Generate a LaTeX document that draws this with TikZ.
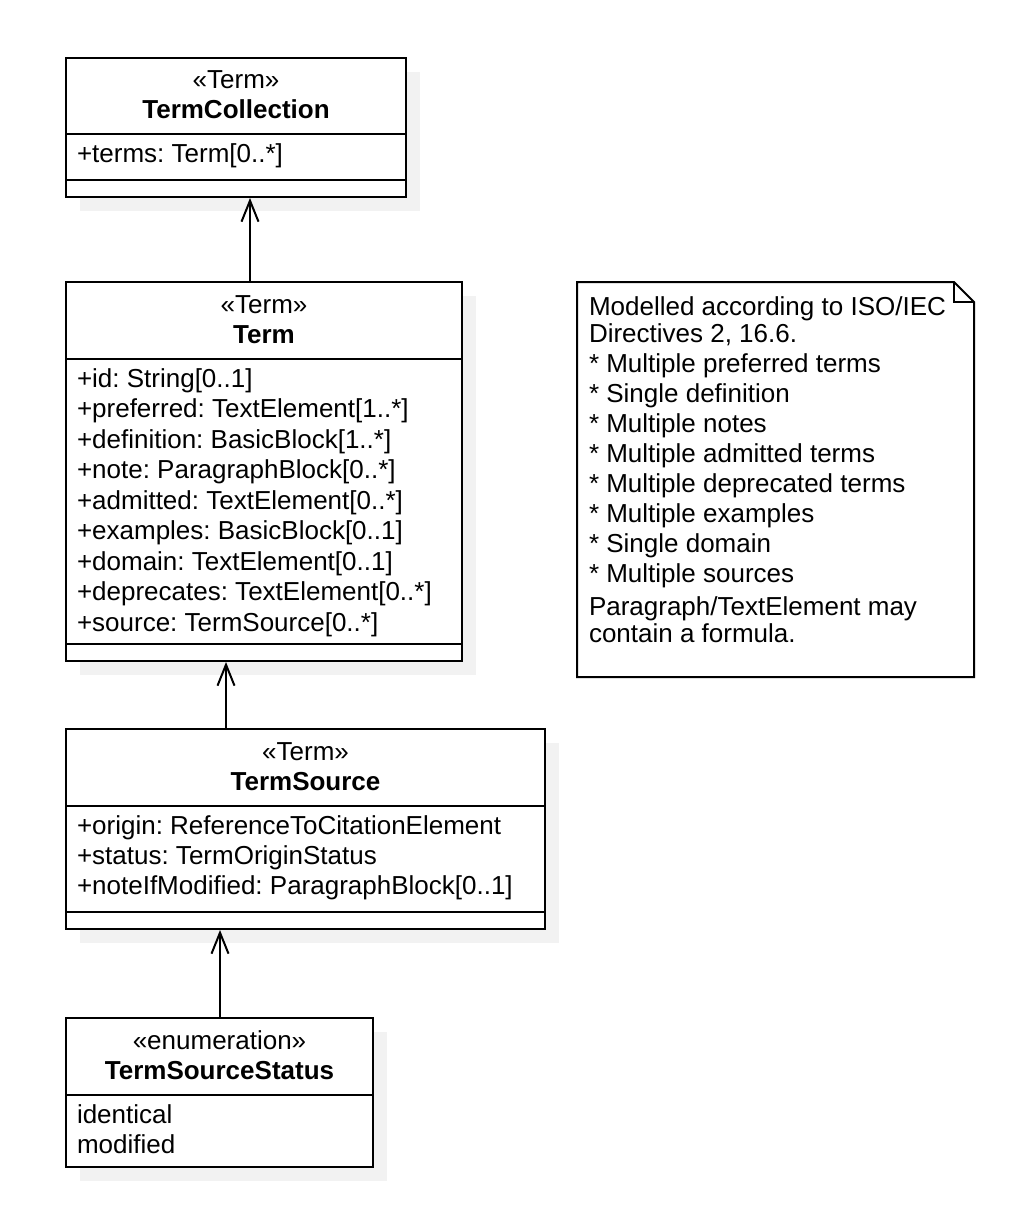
\documentclass[tikz,border=0pt]{standalone}
\usepackage{fontspec}
\setmainfont{Liberation Sans}
\usetikzlibrary{arrows.meta,fit}
\frenchspacing

\definecolor{shadowgray}{RGB}{242,242,242}
\newcommand{\umlfont}{\fontsize{19.5}{22.5}\selectfont}

\tikzset{every picture/.style={line width=1.5pt}}
\tikzset{
  classbox/.style={draw, fill=white, inner sep=0pt},
  boxshadow/.style={fill=shadowgray, draw=none},
  stereo/.style={anchor=base, inner sep=0pt, font=\umlfont},
  cname/.style={anchor=base, inner sep=0pt, font=\umlfont\bfseries},
  attr/.style={anchor=base west, inner sep=0pt, font=\umlfont},
  assoc/.style={-{Straight Barb[length=15.75pt,width=12.75pt]}}
}

\begin{document}
\begin{tikzpicture}[x=0.75pt,y=0.75pt,yscale=-1,xscale=1]
\useasboundingbox (0,0) rectangle (1010,1210);

%Shadows
\fill [boxshadow] (80,72) rectangle (420,211);
\fill [boxshadow] (80,296) rectangle (476,675);
\fill [boxshadow] (80,743) rectangle (559,943);
\fill [boxshadow] (80,1032) rectangle (387,1181);

%Class: TermCollection
\node [classbox, fit={(66,58) (406,197)}] (termcoll) {};
\draw (66,134) -- (406,134) ;
\draw (66,180) -- (406,180) ;
%Class: Term
\node [classbox, fit={(66,282) (462,661)}] (term) {};
\draw (66,359) -- (462,359) ;
\draw (66,644) -- (462,644) ;
%Class: TermSource
\node [classbox, fit={(66,729) (545,929)}] (termsrc) {};
\draw (66,806) -- (545,806) ;
\draw (66,912) -- (545,912) ;
%Enumeration: TermSourceStatus
\node [classbox, fit={(66,1018) (373,1167)}] (srcstatus) {};
\draw (66,1095) -- (373,1095) ;

%Shape: Note
\draw [fill=white] (577,282) -- (954,282) -- (974,302) -- (974,677) -- (577,677) -- cycle ;
\draw (954,282) -- (954,302) -- (974,302) ;

% Text Node
\draw (236,88) node [stereo] (termcoll-st) {«Term»};
\draw (236,118) node [cname] (termcoll-nm) {TermCollection};
\draw (76,162) node [attr] (termcoll-a1) {+terms: Term[0..*]};

% Text Node
\draw (264,313) node [stereo] (term-st) {«Term»};
\draw (264,343) node [cname] (term-nm) {Term};
\foreach \txt [count=\i] in {{+id: String[0..1]}, {+preferred: TextElement[1..*]},
    {+definition: BasicBlock[1..*]}, {+note: ParagraphBlock[0..*]},
    {+admitted: TextElement[0..*]}, {+examples: BasicBlock[0..1]},
    {+domain: TextElement[0..1]}, {+deprecates: TextElement[0..*]},
    {+source: TermSource[0..*]}}
  \draw (76,{356.5+30.5*\i}) node [attr] (term-a\i) {\txt};

% Text Node
\draw (305.5,760) node [stereo] (termsrc-st) {«Term»};
\draw (305.5,790) node [cname] (termsrc-nm) {TermSource};
\foreach \txt [count=\i] in {{+origin: ReferenceToCitationElement}, {+status: TermOriginStatus},
    {+noteIfModified: ParagraphBlock[0..1]}}
  \draw (76,{804+30*\i}) node [attr] (termsrc-a\i) {\txt};

% Text Node
\draw (219.5,1049) node [stereo] (srcstatus-st) {«enumeration»};
\draw (219.5,1079) node [cname] (srcstatus-nm) {TermSourceStatus};
\draw (76,1123) node [attr] (srcstatus-l1) {identical};
\draw (76,1153) node [attr] (srcstatus-l2) {modified};

% Text Node
\foreach \txt/\y [count=\i] in {{Modelled according to ISO/IEC}/315, {Directives 2, 16.6.}/342,
    {* Multiple preferred terms}/372, {* Single definition}/402, {* Multiple notes}/432,
    {* Multiple admitted terms}/462, {* Multiple deprecated terms}/492,
    {* Multiple examples}/522, {* Single domain}/552, {* Multiple sources}/582,
    {Paragraph/TextElement may}/615, {contain a formula.}/642}
  \draw (588,\y) node [attr] (note-l\i) {\txt};

%Associations
\draw [assoc] (term.north -| 250,0) -- (termcoll.south -| 250,0) ;
\draw [assoc] (termsrc.north -| 226,0) -- (term.south -| 226,0) ;
\draw [assoc] (srcstatus.north -| 220,0) -- (termsrc.south -| 220,0) ;

\end{tikzpicture}
\end{document}
